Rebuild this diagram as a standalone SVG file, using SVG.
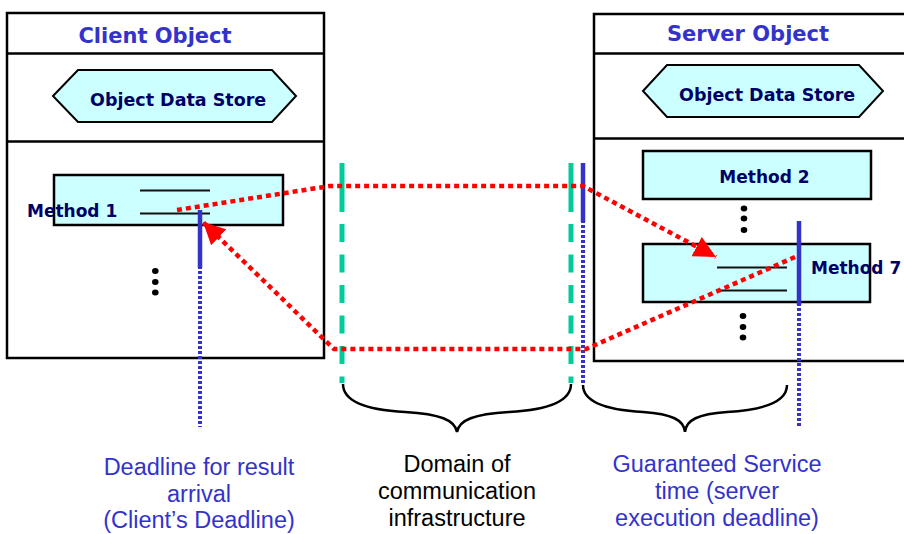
<svg xmlns="http://www.w3.org/2000/svg" width="904" height="534" viewBox="0 0 904 534">
<style>
.box{fill:#ffffff;stroke:#000;stroke-width:2.5}
.div{stroke:#000;stroke-width:2.5}
.store{fill:#ccffff;stroke:#000;stroke-width:2}
.meth{fill:#ccffff;stroke:#000;stroke-width:2.5}
.mline{stroke:#111;stroke-width:1.8}
.title{font-family:"DejaVu Sans",Verdana,sans-serif;font-weight:bold;font-size:21px;fill:#3333cc;text-anchor:middle}
.lbl{font-family:"DejaVu Sans",Verdana,sans-serif;font-weight:bold;font-size:17px;fill:#000066}
.note{font-family:"Liberation Sans",Arial,sans-serif;font-size:23.5px;text-anchor:middle}
.blue{fill:#3333cc}
.blk{fill:#000}
.red{fill:none;stroke:#ff0000;stroke-width:4.5;stroke-dasharray:5 4}
.green{stroke:#00cc99;stroke-width:5;stroke-dasharray:49 12 18 12.5 18 12.5 18 12.5 18 12.5 18 12.5 18 12.5}
.bsolid{stroke:#3333cc;stroke-width:4.5}
.bdot{stroke:#3333cc;stroke-width:4;stroke-dasharray:3 2}
.brace{fill:none;stroke:#000;stroke-width:2.5}
.dot{fill:#000}
</style>
<defs>
<marker id="ah" markerUnits="userSpaceOnUse" markerWidth="24" markerHeight="22" refX="22" refY="11" orient="auto" viewBox="0 0 24 22">
<path d="M0,0 L22,11 L0,22 z" fill="#ff0000"/>
</marker>
</defs>

<g id="client">
<rect class="box" x="7" y="13" width="317" height="345"/>
<line class="div" x1="7" y1="53.5" x2="324" y2="53.5"/>
<line class="div" x1="7" y1="141.5" x2="324" y2="141.5"/>
<text class="title" x="155" y="43">Client Object</text>
</g>
<g id="client-store">
<polygon class="store" points="53,96 78,70 272,70 296,96 272,122 78,122"/>
<text class="lbl" x="90" y="106" style="font-size:17.5px">Object Data Store</text>
</g>
<g id="method1">
<rect class="meth" x="54" y="175" width="229" height="50"/>
<line class="mline" x1="140" y1="190.5" x2="210" y2="190.5"/>
<line class="mline" x1="140" y1="213.5" x2="210" y2="213.5"/>
<text class="lbl" x="27" y="217">Method 1</text>
</g>
<g id="client-more">
<ellipse class="dot" cx="155.3" cy="271" rx="3.3" ry="3"/>
<ellipse class="dot" cx="155.3" cy="282" rx="3.3" ry="3"/>
<ellipse class="dot" cx="155.3" cy="292.5" rx="3.3" ry="3"/>
</g>

<g id="server">
<rect class="box" x="594" y="14" width="320" height="347"/>
<line class="div" x1="594" y1="53.5" x2="914" y2="53.5"/>
<line class="div" x1="594" y1="138.5" x2="914" y2="138.5"/>
<text class="title" x="748" y="41">Server Object</text>
</g>
<g id="server-store">
<polygon class="store" points="643,91 667,65 859,65 883,91 859,117 667,117"/>
<text class="lbl" x="679" y="101" style="font-size:17.5px">Object Data Store</text>
</g>
<g id="method2">
<rect class="meth" x="643" y="151" width="228" height="48"/>
<text class="lbl" x="764.5" y="183" text-anchor="middle">Method 2</text>
</g>
<g id="server-more-1">
<ellipse class="dot" cx="744" cy="208.5" rx="3.3" ry="3"/>
<ellipse class="dot" cx="744" cy="218.5" rx="3.3" ry="3"/>
<ellipse class="dot" cx="744" cy="230" rx="3.3" ry="3"/>
</g>
<g id="method7">
<rect class="meth" x="643" y="244" width="227" height="58"/>
<line class="mline" x1="717" y1="267.5" x2="787" y2="267.5"/>
<line class="mline" x1="717" y1="290.5" x2="787" y2="290.5"/>
<text class="lbl" x="811" y="274">Method 7</text>
</g>
<g id="server-more-2">
<ellipse class="dot" cx="743" cy="316" rx="3.3" ry="3"/>
<ellipse class="dot" cx="743" cy="327" rx="3.3" ry="3"/>
<ellipse class="dot" cx="743" cy="337.5" rx="3.3" ry="3"/>
</g>

<g id="connectors">
<line class="green" x1="342" y1="163" x2="342" y2="383"/>
<line class="green" x1="571" y1="163" x2="571" y2="383"/>
<line class="bdot" x1="200" y1="266" x2="200" y2="427"/>
<line class="bdot" x1="583" y1="220" x2="583" y2="385"/>
<line class="bdot" x1="799" y1="303" x2="799" y2="427"/>
<line class="bsolid" x1="200" y1="210" x2="200" y2="268"/>
<line class="bsolid" x1="583" y1="163" x2="583" y2="222"/>
<line class="bsolid" x1="799" y1="221" x2="799" y2="305"/>
<path class="red" d="M177,210 L330,186 L583,186 L716,257" marker-end="url(#ah)"/>
<path class="red" d="M795,257 L586,349 L334,349 L203,222" marker-end="url(#ah)"/>
<path class="brace" d="M343,384 C343,402 368,410 405,412 C440,414 455,420 457,432 C459,420 474,414 509,412 C546,410 571,402 571,384"/>
<path class="brace" d="M583,385 C583,402 608,410 643,412 C672,414 684,420 685,432 C686,420 698,414 727,412 C762,410 787,402 787,385"/>
</g>

<g id="label-client-deadline">
<text class="note blue" x="199" y="475">Deadline for result</text>
<text class="note blue" x="199" y="502">arrival</text>
<text class="note blue" x="199" y="528">(Client’s Deadline)</text>
</g>
<g id="label-domain">
<text class="note blk" x="457" y="472">Domain of</text>
<text class="note blk" x="457" y="499">communication</text>
<text class="note blk" x="457" y="526">infrastructure</text>
</g>
<g id="label-service">
<text class="note blue" x="717" y="472">Guaranteed Service</text>
<text class="note blue" x="717" y="499">time (server</text>
<text class="note blue" x="717" y="526">execution deadline)</text>
</g>
</svg>
